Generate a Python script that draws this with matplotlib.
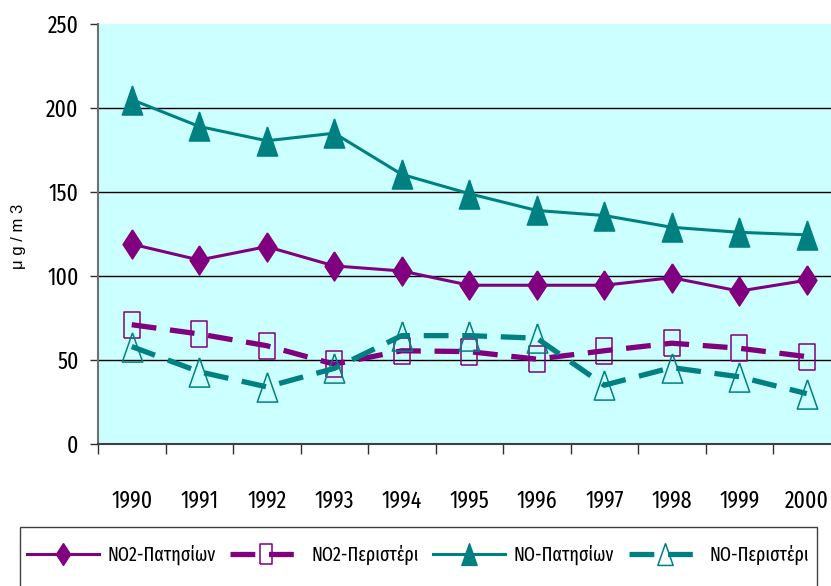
import numpy as np
import matplotlib
matplotlib.use('Agg')
import matplotlib.pyplot as plt
from matplotlib.patches import Rectangle
from matplotlib.ticker import FixedLocator, NullFormatter, FixedFormatter

years = ['1990', '1991', '1992', '1993', '1994', '1995', '1996', '1997', '1998', '1999', '2000']
no2_patision = [119, 109.5, 117.5, 106, 103, 94.5, 94.5, 94.5, 99, 91, 97.5]
no2_peristeri = [71, 65.5, 58.5, 47.5, 55.5, 55, 50.5, 55.5, 60, 57, 52]
no_patision = [205, 189, 180.5, 185, 160.5, 149, 139, 136, 129, 126, 124.5]
no_peristeri = [58, 43, 34, 45, 64.5, 64.5, 63, 35, 45.5, 40, 30]

purple = '#800080'
teal = '#008080'
plt.rcParams['font.family'] = ['Fira Sans Extra Condensed', 'DejaVu Sans']

# tall (stretched) marker shapes like the excel original
diamond = [(0, 1), (0.65, 0), (0, -1), (-0.65, 0), (0, 1)]
rect = [(-0.62, -1), (0.62, -1), (0.62, 1), (-0.62, 1), (-0.62, -1)]
tri = [(0, 1), (0.7, -1), (-0.7, -1), (0, 1)]

fig = plt.figure(figsize=(8.31, 5.86), dpi=100)
ax = fig.add_axes([98 / 831, 1 - 444 / 586, 742.5 / 831, 420 / 586])
ax.set_facecolor('#ccffff')

x = np.arange(len(years))
dash = (0, (4.7, 2.6))
ax.plot(x, no2_patision, color=purple, lw=2.2, marker=diamond, ms=21,
        mfc=purple, mec=purple, label='NO2-Πατησίων')
ax.plot(x, no2_peristeri, color=purple, lw=3.8, ls=dash, dash_capstyle='butt',
        marker=rect, ms=19, mfc='none', mec=purple, mew=1.1, label='NO2-Περιστέρι')
ax.plot(x, no_patision, color=teal, lw=2.2, marker=tri, ms=21,
        mfc=teal, mec=teal, label='NO-Πατησίων')
ax.plot(x, no_peristeri, color=teal, lw=3.8, ls=dash, dash_capstyle='butt',
        marker=tri, ms=21, mfc='none', mec=teal, mew=1.1, label='NO-Περιστέρι')

ax.set_xlim(-0.5, len(years) - 0.5)
ax.set_ylim(0, 250)
ax.set_yticks([0, 50, 100, 150, 200, 250])
ax.yaxis.grid(True, color='black', lw=1)
ax.get_ygridlines()[-1].set_visible(False)
ax.set_axisbelow(True)

ax.xaxis.set_major_locator(FixedLocator(np.arange(-0.5, len(years), 1)))
ax.xaxis.set_major_formatter(NullFormatter())
ax.xaxis.set_minor_locator(FixedLocator(x))
ax.xaxis.set_minor_formatter(FixedFormatter(years))
ax.tick_params(axis='x', which='major', length=7, width=1, color='#303030')
ax.tick_params(axis='x', which='minor', length=0, pad=33, labelsize=17)
ax.tick_params(axis='y', length=6, width=1, color='#303030', labelsize=17, pad=8)

for s in ['top', 'right']:
    ax.spines[s].set_visible(False)
ax.spines['left'].set_color('#707070')
ax.spines['bottom'].set_color('#404040')
ax.spines['left'].set_linewidth(1.5)
ax.spines['bottom'].set_linewidth(1.5)

ax.set_ylabel('μ g / m 3', fontsize=12, family=['Liberation Sans', 'DejaVu Sans'])
ax.yaxis.set_label_coords(-0.097, 0.495)

# legend box (the bottom edge runs off the picture like in the original)
fig.patches.append(Rectangle((20 / 831, -0.05), 797 / 831, 0.05 + 59 / 586,
                             transform=fig.transFigure, fill=False,
                             edgecolor='#404040', lw=1))
leg = fig.legend(loc='center left', bbox_to_anchor=(20 / 831, 1 - 555 / 586), ncol=4,
                 frameon=False, fontsize=14, handlelength=3.7, columnspacing=0.75,
                 handletextpad=0.45, borderpad=0.35, borderaxespad=0, markerscale=0.75)

fig.savefig('out.png', dpi=100)
